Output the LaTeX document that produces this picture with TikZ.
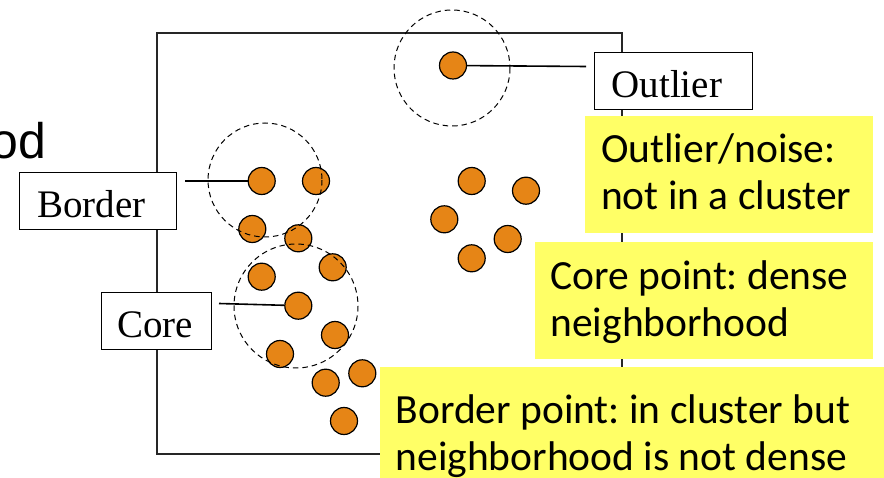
\documentclass[tikz,border=0pt]{standalone}
\usepackage{fontspec}
\setmainfont{Liberation Serif}
\newfontfamily\notefont{Carlito}
\newfontfamily\headfont{Liberation Sans}
\definecolor{ptorange}{RGB}{230,133,22}
\definecolor{noteyellow}{RGB}{255,255,102}
\frenchspacing
\begin{document}
\begin{tikzpicture}[x=1pt,y=-1pt,
  pt/.style={circle, draw=black, line width=1.2pt, fill=ptorange,
             minimum size=27pt, inner sep=0pt},
  reach/.style={draw=black, line width=1pt, dash pattern=on 5.5pt off 4pt},
  conn/.style={draw=black, line width=1.6pt},
  lblbox/.style={draw=black, line width=1.2pt, fill=white, anchor=north west,
             font=\fontsize{39}{44}\selectfont, align=left, inner ysep=0pt,
             text height=33pt, text depth=0pt, minimum height=57pt},
  notebox/.style={fill=noteyellow, anchor=north west, inner sep=0pt},
  notetext/.style={font=\notefont\fontsize{41.5}{47}\selectfont, anchor=base west,
             inner sep=0pt}
]
\useasboundingbox (0,0) rectangle (884,478);

% data space frame
\draw[line width=1.3pt, draw=black!85] (157,33) rectangle (622,454);

% outlier
\node[pt] (po) at (453,65.5) {};

% left cluster
\node[pt] (pb1) at (261.7,181) {};
\node[pt] (pb2) at (316,181) {};
\node[pt] (pb3) at (252.3,229) {};
\node[pt] (pb4) at (298.3,238.3) {};
\node[pt] (pc2) at (261.7,276.7) {};
\node[pt] (pc3) at (332.7,267.3) {};
\node[pt] (pc1) at (298.3,305.7) {};
\node[pt] (pc4) at (335,335) {};
\node[pt] (pc5) at (280,354) {};
\node[pt] (pl1) at (325.7,382.7) {};
\node[pt] (pl2) at (362.3,373.3) {};
\node[pt] (pl3) at (344,421) {};

% right cluster
\node[pt] (pr1) at (471.7,181) {};
\node[pt] (pr2) at (526,190.7) {};
\node[pt] (pr3) at (444.3,219.3) {};
\node[pt] (pr4) at (507.7,239) {};
\node[pt] (pr5) at (471.7,258.3) {};

% eps-neighbourhoods
\draw[reach] (452,68) circle[radius=58];
\draw[reach] (265,180) circle[radius=57];
\draw[reach] (296,306) circle[radius=62];

% leader lines
\coordinate (oend) at (586,66.5);
\coordinate (bend) at (185,181);
\coordinate (cend) at (219,303.5);
\draw[conn] (po) -- (oend);
\draw[conn] (bend) -- (pb1);
\draw[conn] (cend) -- (pc1);

% point-type labels
\node[lblbox, inner xsep=17pt, text width=124pt] (lout) at (594,52) {Outlier};
\node[lblbox, inner xsep=17.5pt, text width=122pt] (lbor) at (19,172) {Border};
\node[lblbox, inner xsep=15.5pt, text width=79pt] (lcor) at (101,292) {Core};

% explanatory notes
\node[notebox, minimum width=288pt, minimum height=117pt] (n1) at (585,116) {};
\node[notebox, minimum width=338pt, minimum height=117pt] (n2) at (535,242.3) {};
\node[notebox, minimum width=504pt, minimum height=111.3pt] (n3) at (380,366.7) {};

\node[notetext] (n1a) at (601,162.7) {Outlier/noise:};
\node[notetext] (n1b) at (601,209.7) {not in a cluster};
\node[notetext] (n2a) at (550.3,290) {Core point: dense};
\node[notetext] (n2b) at (550.3,337) {neighborhood};
\node[notetext] (n3a) at (395.5,423.3) {Border point: in cluster but};
\node[notetext] (n3b) at (395.5,470.3) {neighborhood is not dense};

% heading fragment
\node[font=\headfont\fontsize{50}{60}\selectfont, anchor=base east, inner sep=0pt]
  (head) at (46.5,159) {od};
\end{tikzpicture}
\end{document}
